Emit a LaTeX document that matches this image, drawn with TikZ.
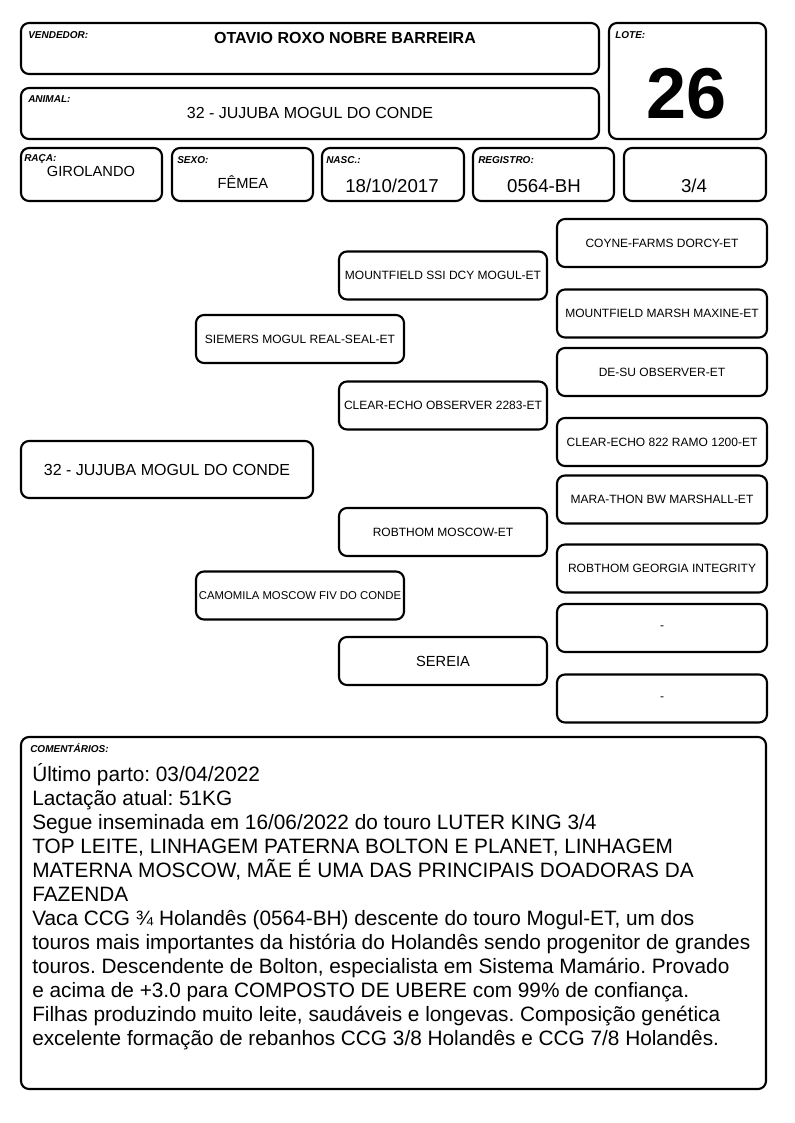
\documentclass[tikz,border=0pt]{standalone}
\usepackage{fontspec}
\setmainfont{Liberation Sans}
\frenchspacing

\begin{document}
\begin{tikzpicture}[x=0.75pt,y=-0.75pt,
  card/.style 2 args={draw, rounded corners=6pt, line width=1.6pt, inner sep=0pt,
    minimum width=#1*0.75pt, minimum height=#2*0.75pt},
  rotulo/.style={anchor=base west, inner sep=0pt, font=\fontsize{7.5}{9}\selectfont\bfseries\itshape},
  valor/.style={anchor=base, inner sep=0pt},
  nome/.style={font=\fontsize{9}{11}\selectfont},
  texto/.style={anchor=base west, inner sep=0pt, font=\fontsize{15.6}{18}\selectfont}]
  \fill[white] (0,0) rectangle (794,1123);
  \useasboundingbox (0,0) rectangle (794,1123);

  % cabecalho
  \node[card={578}{51}] (vendedor) at (310,48.5) {};
  \node[rotulo] (vendedor-rot) at (28,39) {VENDEDOR:};
  \node[valor, font=\fontsize{12}{14}\selectfont\bfseries] (vendedor-txt) at (345,44) {OTAVIO ROXO NOBRE BARREIRA};
  \node[card={578}{51}] (animal) at (310,113.5) {};
  \node[rotulo] (animal-rot) at (28,103) {ANIMAL:};
  \node[valor, font=\fontsize{12}{14}\selectfont] (animal-txt) at (310,119) {32 - JUJUBA MOGUL DO CONDE};
  \node[card={157}{116}] (lote) at (687.5,81) {};
  \node[rotulo] (lote-rot) at (615,39) {LOTE:};
  \node[valor, font=\fontsize{54}{60}\selectfont\bfseries] (lote-txt) at (687,119) {26};

  % dados
  \node[card={141}{53}] (raca) at (91.5,174.5) {};
  \node[rotulo] (raca-rot) at (24,162) {RAÇA:};
  \node[valor, font=\fontsize{11}{13}\selectfont] (raca-txt) at (91,177) {GIROLANDO};
  \node[card={141}{53}] (sexo) at (242.5,174.5) {};
  \node[rotulo] (sexo-rot) at (177,164) {SEXO:};
  \node[valor, font=\fontsize{11}{13}\selectfont] (sexo-txt) at (243,189) {FÊMEA};
  \node[card={142}{53}] (nasc) at (393,174.5) {};
  \node[rotulo] (nasc-rot) at (326,164) {NASC.:};
  \node[valor, font=\fontsize{14}{16}\selectfont] (nasc-txt) at (392,193) {18/10/2017};
  \node[card={141}{53}] (registro) at (543.5,174.5) {};
  \node[rotulo] (registro-rot) at (478,164) {REGISTRO:};
  \node[valor, font=\fontsize{14}{16}\selectfont] (registro-txt) at (544,193) {0564-BH};
  \node[card={142}{53}] (grau) at (695,174.5) {};
  \node[valor, font=\fontsize{14}{16}\selectfont] (grau-txt) at (694,193) {3/4};

  % genealogia
  \node[card={292}{57}, font=\fontsize{12}{14}\selectfont] (p0) at (167,469.5) {32 - JUJUBA MOGUL DO CONDE};
  \node[card={208}{48}, nome] (p1) at (300,339) {SIEMERS MOGUL REAL-SEAL-ET};
  \node[card={208}{48}, font=\fontsize{8.5}{10}\selectfont] (p2) at (300,595.5) {CAMOMILA MOSCOW FIV DO CONDE};
  \foreach \nm/\y/\sz/\txt in {pp/275.5/9/MOUNTFIELD SSI DCY MOGUL-ET,
      pm/405.5/9/CLEAR-ECHO OBSERVER 2283-ET, mp/532/9/ROBTHOM MOSCOW-ET, mm/661/11/SEREIA}
    \node[card={208}{48}, font=\fontsize{\sz}{\sz}\selectfont] (\nm) at (443,\y) {\txt};
  \foreach \nm/\y/\txt in {ppp/243/COYNE-FARMS DORCY-ET, ppm/313.5/MOUNTFIELD MARSH MAXINE-ET,
      pmp/372/DE-SU OBSERVER-ET, pmm/442/CLEAR-ECHO 822 RAMO 1200-ET,
      mpp/499.5/MARA-THON BW MARSHALL-ET, mpm/568.5/ROBTHOM GEORGIA INTEGRITY,
      mmp/628/-, mmm/698.5/-}
    \node[card={210}{48}, nome] (\nm) at (662,\y) {\txt};

  % comentarios
  \node[card={745}{352}] (comentarios) at (393.5,913) {};
  \node[rotulo] (comentarios-rot) at (30,752) {COMENTÁRIOS:};
  \foreach \linha [count=\i from 0] in {{Último parto: 03/04/2022},
      {Lactação atual: 51KG},
      {Segue inseminada em 16/06/2022 do touro LUTER KING 3/4},
      {TOP LEITE, LINHAGEM PATERNA BOLTON E PLANET, LINHAGEM},
      {MATERNA MOSCOW, MÃE É UMA DAS PRINCIPAIS DOADORAS DA},
      {FAZENDA},
      {Vaca CCG ¾ Holandês (0564-BH) descente do touro Mogul-ET, um dos},
      {touros mais importantes da história do Holandês sendo progenitor de grandes},
      {touros. Descendente de Bolton, especialista em Sistema Mamário. Provado},
      {e acima de +3.0 para COMPOSTO DE UBERE com 99\% de confiança.},
      {Filhas produzindo muito leite, saudáveis e longevas. Composição genética},
      {excelente formação de rebanhos CCG 3/8 Holandês e CCG 7/8 Holandês.}}
    \node[texto] (linha\i) at (32,{781+24*\i}) {\linha};
\end{tikzpicture}
\end{document}
